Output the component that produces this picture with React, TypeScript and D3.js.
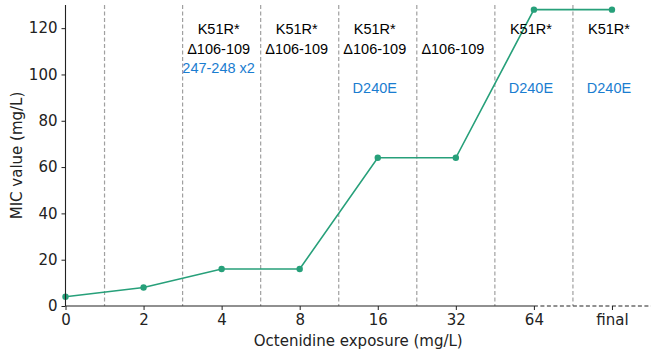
import { useEffect, useRef } from "react"
import * as d3 from "d3"

const categories = ["0", "2", "4", "8", "16", "32", "64", "final"]
const micValues = [4, 8, 16, 16, 64, 64, 128, 128]
const yTicks = [0, 20, 40, 60, 80, 100, 120]

// annotation rows per exposure step (index into categories)
const k51rSteps = [2, 3, 4, 6, 7]
const delSteps = [2, 3, 4, 5]
const dupSteps = [2]
const d240eSteps = [4, 6, 7]

const GREEN = "#27a07a"
const BLUE = "#1a7dd0"

function App() {
	const ref = useRef<SVGSVGElement>(null)
	const W = 651
	const H = 356
	const margin = { top: 5, right: 0, bottom: 50, left: 65.5 }

	useEffect(() => {
		document.body.style.margin = "0"
		const svg = d3.select(ref.current)
		svg.selectAll("*").remove()

		const innerW = W - margin.left - margin.right
		const innerH = H - margin.top - margin.bottom

		const x = d3.scaleLinear().domain([0, 7.5]).range([0, innerW])
		const y = d3.scaleLinear().domain([0, 130]).range([innerH, 0])

		const g = svg
			.append("g")
			.attr("transform", `translate(${margin.left},${margin.top})`)

		// dashed separators between steps
		g.selectAll("line.sep")
			.data(d3.range(7))
			.enter()
			.append("line")
			.attr("class", "sep")
			.attr("x1", (d) => x(d + 0.5))
			.attr("x2", (d) => x(d + 0.5))
			.attr("y1", 0)
			.attr("y2", innerH)
			.attr("stroke", "#a0a0a0")
			.attr("stroke-width", 1.2)
			.attr("stroke-dasharray", "4,2.5")

		// line + markers
		const line = d3
			.line<number>()
			.x((d, i) => x(i))
			.y((d) => y(d))

		g.append("path")
			.datum(micValues)
			.attr("d", line)
			.attr("fill", "none")
			.attr("stroke", GREEN)
			.attr("stroke-width", 1.6)

		g.selectAll("circle")
			.data(micValues)
			.enter()
			.append("circle")
			.attr("cx", (d, i) => x(i))
			.attr("cy", (d) => y(d))
			.attr("r", 3.2)
			.attr("fill", GREEN)

		// y axis
		const yAxis = g.append("g").call(d3.axisLeft(y).tickValues(yTicks).tickSize(4).tickPadding(4))
		yAxis.select(".domain").attr("stroke", "#222").attr("stroke-width", 1.1).attr("d", `M0,${innerH}V0`)
		yAxis.selectAll(".tick line").attr("stroke", "#222")
		yAxis
			.selectAll("text")
			.attr("font-family", "DejaVu Sans")
			.attr("font-size", 15)
			.attr("fill", "#222")

		// x axis
		const xAxis = g
			.append("g")
			.attr("transform", `translate(0,${innerH})`)
			.call(
				d3
					.axisBottom(x)
					.tickValues(d3.range(categories.length))
					.tickFormat((d) => categories[d as number])
					.tickSize(4)
					.tickPadding(4)
			)
		xAxis.select(".domain").remove()
		xAxis.selectAll(".tick line").attr("stroke", "#222")
		xAxis
			.selectAll("text")
			.attr("font-family", "DejaVu Sans")
			.attr("font-size", 15)
			.attr("fill", "#222")

		xAxis
			.append("line")
			.attr("x1", 0)
			.attr("x2", x(6))
			.attr("stroke", "#222")
			.attr("stroke-width", 1.1)
		xAxis
			.append("line")
			.attr("x1", x(6))
			.attr("x2", innerW)
			.attr("stroke", "#222")
			.attr("stroke-width", 1.1)
			.attr("stroke-dasharray", "4,2.5")

		// annotations
		const rows = [
			{ steps: k51rSteps, text: "K51R*", yv: 119.5, color: "#000" },
			{ steps: delSteps, text: "Δ106-109", yv: 111, color: "#000" },
			{ steps: dupSteps, text: "247-248 x2", yv: 102.7, color: BLUE },
			{ steps: d240eSteps, text: "D240E", yv: 94, color: BLUE },
		]
		rows.forEach((row) => {
			g.selectAll(null)
				.data(row.steps)
				.enter()
				.append("text")
				.attr("x", (d) => x(d) - 3)
				.attr("y", y(row.yv))
				.attr("dy", "0.35em")
				.attr("text-anchor", "middle")
				.attr("font-family", "Liberation Sans, Arial, sans-serif")
				.attr("font-size", 14.5)
				.attr("fill", row.color)
				.text(row.text)
		})

		// axis labels
		svg.append("text")
			.attr("x", margin.left + (W - margin.left) / 2)
			.attr("y", 346)
			.attr("text-anchor", "middle")
			.attr("font-family", "DejaVu Sans")
			.attr("font-size", 15)
			.attr("fill", "#222")
			.text("Octenidine exposure (mg/L)")

		svg.append("text")
			.attr("transform", `translate(22,${margin.top + innerH / 2}) rotate(-90)`)
			.attr("text-anchor", "middle")
			.attr("font-family", "DejaVu Sans")
			.attr("font-size", 15)
			.attr("fill", "#222")
			.text("MIC value (mg/L)")
	}, [])

	return (
		<svg
			ref={ref}
			width={W}
			height={H}
			style={{ position: "absolute", left: 0, top: 0, background: "#fff" }}
		></svg>
	)
}

export default App
